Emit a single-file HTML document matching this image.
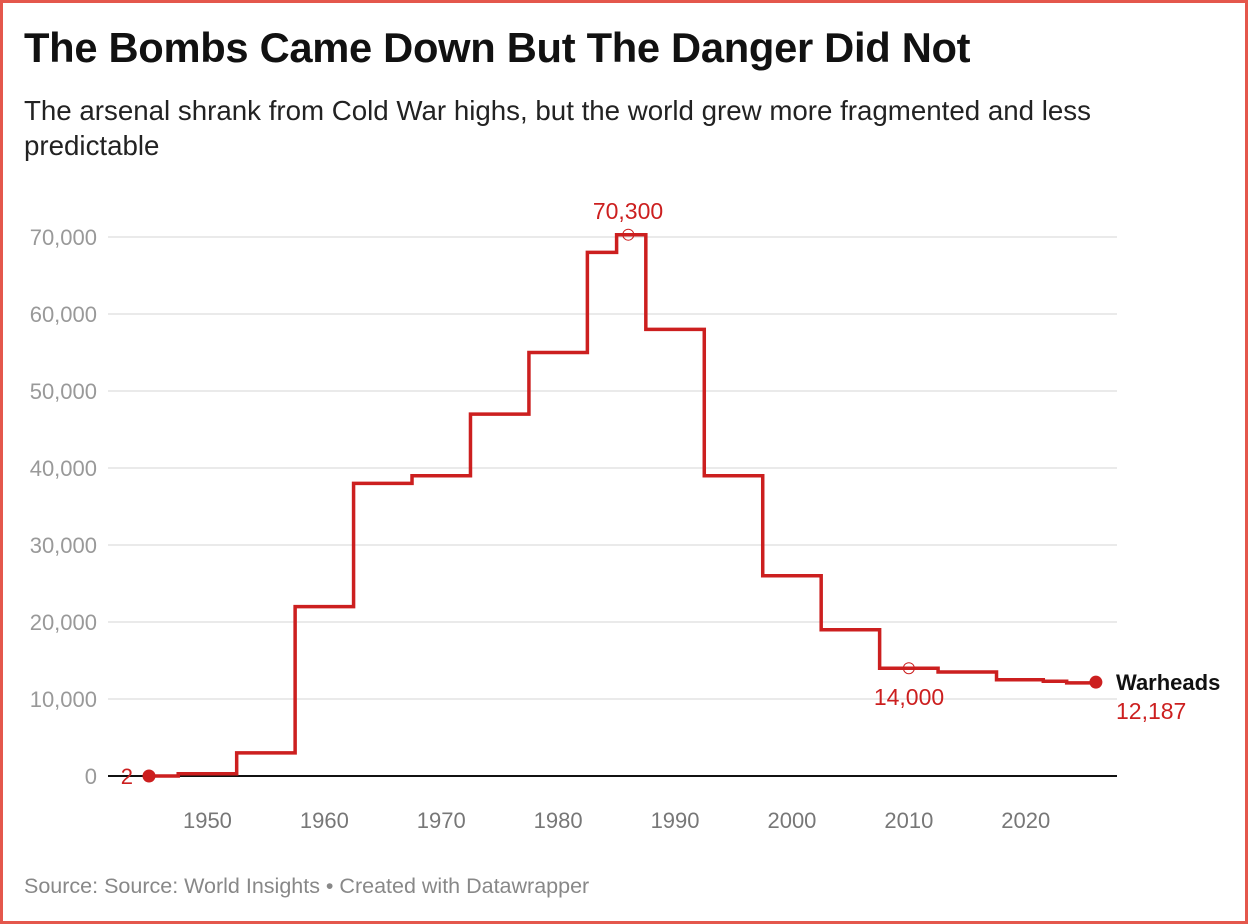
<!DOCTYPE html>
<html><head><meta charset="utf-8"><style>
body{margin:0;background:#fff;font-family:"Liberation Sans",sans-serif}
#frame{position:absolute;left:0;top:0;width:1242px;height:918px;border:3px solid #e4574c;background:#fff}
h1{position:absolute;left:24px;top:24px;margin:0;font-size:41.7px;font-weight:bold;color:#111;letter-spacing:-0.3px}
#sub{position:absolute;left:24px;top:93px;width:1110px;font-size:27.7px;line-height:35px;color:#222}
#src{position:absolute;left:24px;top:874px;font-size:21.5px;color:#888}
svg{position:absolute;left:0;top:0}
</style></head><body>
<div id="frame"></div>
<h1>The Bombs Came Down But The Danger Did Not</h1>
<div id="sub">The arsenal shrank from Cold War highs, but the world grew more fragmented and less predictable</div>
<svg id="chart" width="1248" height="924"></svg>
<div id="src">Source: Source: World Insights • Created with Datawrapper</div>
<script>
const stepStarts=[1945,1947.5,1952.5,1957.5,1962.5,1967.5,1972.5,1977.5,1982.5,1985,1987.5,1992.5,1997.5,2002.5,2007.5,2012.5,2017.5,2021.5,2023.5];
const stepValues=[2,300,3000,22000,38000,39000,47000,55000,68000,70300,58000,39000,26000,19000,14000,13500,12500,12300,12100];
const endYear=2026, endValue=12187;
const yTicks=[0,10000,20000,30000,40000,50000,60000,70000];
const xTicks=[1950,1960,1970,1980,1990,2000,2010,2020];
const NS="http://www.w3.org/2000/svg",svg=document.getElementById('chart');
const x=y=>149+(y-1945)*11.69, yv=v=>776-v*0.0077;
function mk(t,a,txt){const e=document.createElementNS(NS,t);for(const k in a)e.setAttribute(k,a[k]);if(txt!=null)e.textContent=txt;svg.appendChild(e);return e;}
yTicks.forEach(v=>{
 if(v>0){const g=mk('line',{x1:108,x2:1117,y1:yv(v),y2:yv(v),stroke:'#e3e3e3','stroke-width':1.5});
 }
 const t=mk('text',{x:97,y:yv(v)+8,'text-anchor':'end','font-size':22,fill:'#999'},v.toLocaleString('en-US'));
 
});
const base=mk('line',{x1:108,x2:1117,y1:776,y2:776,stroke:'#111','stroke-width':2});

xTicks.forEach(yr=>{const t=mk('text',{x:x(yr),y:828,'text-anchor':'middle','font-size':22,fill:'#777'},yr);
 });
let d='';
stepStarts.forEach((s,i)=>{const e=i<stepStarts.length-1?stepStarts[i+1]:endYear;
 d+=(i?'L':'M')+x(s)+' '+yv(stepValues[i])+'L'+x(e)+' '+yv(stepValues[i]);});
d+='L'+x(endYear)+' '+yv(endValue);
const p=mk('path',{d:d,fill:'none',stroke:'#cc1f1f','stroke-width':3.5,'stroke-linejoin':'miter'});

const c1=mk('circle',{cx:x(1945),cy:yv(2),r:6.5,fill:'#cc1f1f'});

const c2=mk('circle',{cx:x(endYear),cy:yv(endValue),r:6.5,fill:'#cc1f1f'});

const pk=mk('circle',{cx:x(1986),cy:yv(70300),r:5.5,fill:'none',stroke:'#cc1f1f','stroke-width':1});

const m14=mk('circle',{cx:x(2010),cy:yv(14000),r:5.5,fill:'none',stroke:'#cc1f1f','stroke-width':1});

const lbls=[[133,784,'2','end','normal','#cc1f1f',22,'label-start'],[628,219,'70,300','middle','normal','#cc1f1f',23,'label-peak'],
[909,705,'14,000','middle','normal','#cc1f1f',23,'label-2010'],[1116,690,'Warheads','start','bold','#111',22,'series-label'],
[1116,719,'12,187','start','normal','#cc1f1f',23,'label-end']];
lbls.forEach(l=>{const t=mk('text',{x:l[0],y:l[1],'text-anchor':l[3],'font-weight':l[4],fill:l[5],'font-size':l[6]},l[2]);
 });
</script>
</body></html>
